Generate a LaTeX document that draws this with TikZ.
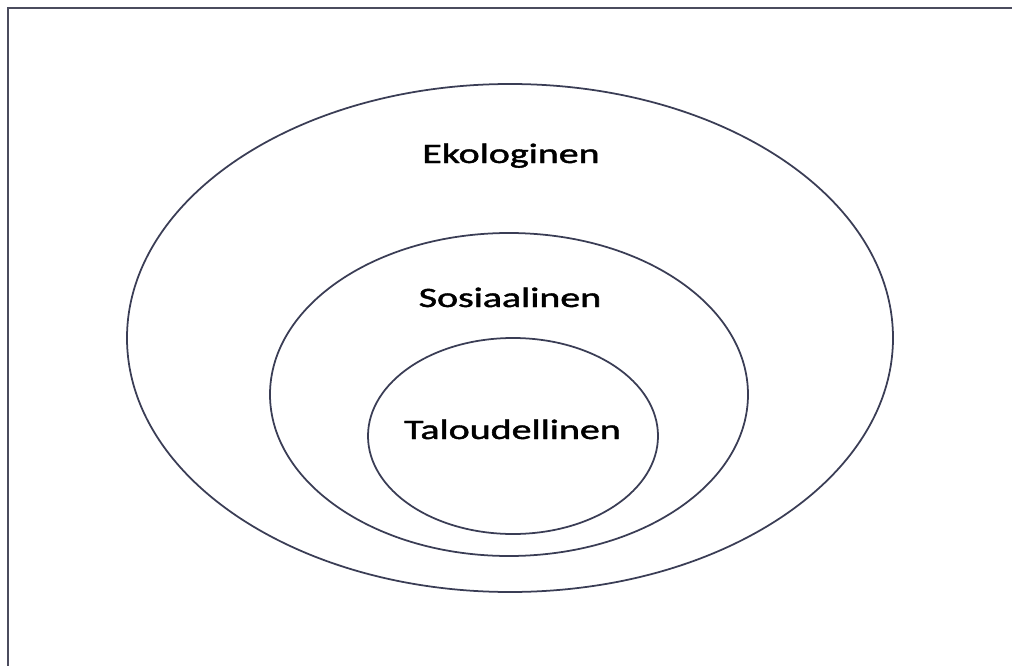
\documentclass[tikz,border=0pt]{standalone}
\usepackage{fontspec}
\setmainfont{Carlito}
\newfontfamily\lblfont[FakeBold=1.4]{Carlito}
\definecolor{framecol}{HTML}{4B4C5E}
\definecolor{ringcol}{HTML}{3A3D55}

\begin{document}
\begin{tikzpicture}[x=0.02cm,y=-0.02cm,
        ring/.style={draw=ringcol, line width=1pt},
        lbl/.style={anchor=base, inner sep=0pt, xscale=1.42,
                        font=\lblfont\fontsize{16}{19}\selectfont}]
    \useasboundingbox (0,0) rectangle (1012,666);
    % open frame: left and top edges only
    \draw[framecol, line width=1.4pt] (8,666) -- (8,8) -- (1012,8);
    % nested rings
    \draw[ring] (510,338) ellipse [x radius=383, y radius=254];
    \draw[ring] (509,394.5) ellipse [x radius=239, y radius=161.5];
    \draw[ring] (513,436) ellipse [x radius=145, y radius=98];
    \node[lbl] (eko) at (511,163) {Ekologinen};
    \node[lbl] (sos) at (510,307) {Sosiaalinen};
    \node[lbl] (tal) at (512.5,439) {Taloudellinen};
\end{tikzpicture}
\end{document}
